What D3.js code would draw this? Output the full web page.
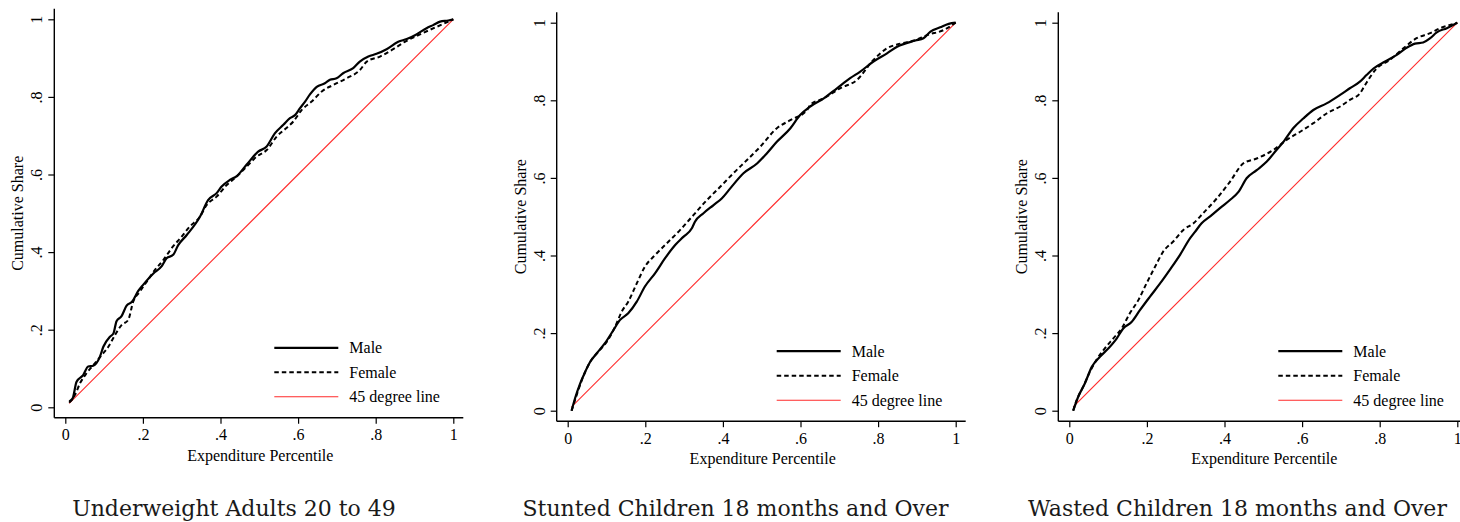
<!DOCTYPE html>
<html>
<head>
<meta charset="utf-8">
<script src="https://cdn.jsdelivr.net/npm/d3@7"></script>
<style>
  html, body { margin: 0; padding: 0; background: #fff; }
  svg { display: block; }
</style>
</head>
<body>
<svg id="chart" width="1460" height="522"></svg>
<script>
// Concentration curves: cumulative share of each group vs. expenditure percentile
const panelTitles = [
  "Underweight Adults 20 to 49",
  "Stunted Children 18 months and Over",
  "Wasted Children 18 months and Over"
];
const xTicks = [0, 0.2, 0.4, 0.6, 0.8, 1];
const yTicks = [0, 0.2, 0.4, 0.6, 0.8, 1];
const tickLabels = ["0", ".2", ".4", ".6", ".8", "1"];
const legendLabels = ["Male", "Female", "45 degree line"];
const xTitle = "Expenditure Percentile";
const yTitle = "Cumulative Share";

// Underweight adults
const adultsMaleX = [0.01,0.019,0.029,0.046,0.059,0.072,0.089,0.098,0.115,0.124,0.132,0.145,0.158,0.172,0.188,0.2,0.227,0.248,0.261,0.278,0.291,0.313,0.347,0.368,0.39,0.403,0.424,0.442,0.467,0.497,0.519,0.54,0.562,0.579,0.592,0.605,0.618,0.631,0.648,0.669,0.682,0.699,0.716,0.742,0.759,0.781,0.802,0.828,0.858,0.88,0.905,0.931,0.948,0.966,0.987,1];
const adultsMaleY = [0.015,0.023,0.066,0.083,0.105,0.107,0.13,0.156,0.182,0.19,0.222,0.235,0.262,0.272,0.3,0.315,0.345,0.363,0.384,0.393,0.418,0.444,0.491,0.534,0.552,0.569,0.586,0.596,0.625,0.659,0.672,0.706,0.728,0.745,0.753,0.771,0.788,0.807,0.826,0.835,0.844,0.848,0.861,0.874,0.891,0.904,0.911,0.923,0.942,0.949,0.961,0.977,0.985,0.994,0.997,1];
const adultsFemaleX = [0.01,0.025,0.038,0.055,0.076,0.094,0.111,0.128,0.145,0.162,0.175,0.192,0.21,0.231,0.253,0.274,0.3,0.321,0.347,0.364,0.39,0.416,0.442,0.467,0.493,0.519,0.545,0.57,0.588,0.609,0.635,0.661,0.691,0.725,0.759,0.777,0.811,0.845,0.875,0.905,0.94,0.974,1];
const adultsFemaleY = [0.012,0.032,0.062,0.088,0.113,0.135,0.156,0.186,0.212,0.225,0.272,0.298,0.324,0.354,0.38,0.41,0.44,0.466,0.491,0.521,0.543,0.573,0.595,0.62,0.646,0.663,0.698,0.72,0.737,0.766,0.788,0.814,0.831,0.848,0.869,0.891,0.904,0.923,0.942,0.957,0.973,0.988,1];

// Stunted children
const stuntedMaleX = [0.01,0.019,0.032,0.045,0.058,0.075,0.096,0.118,0.135,0.156,0.178,0.199,0.225,0.251,0.277,0.298,0.32,0.328,0.35,0.376,0.397,0.419,0.453,0.488,0.513,0.539,0.574,0.599,0.625,0.66,0.694,0.728,0.754,0.788,0.823,0.849,0.896,0.917,0.935,0.96,0.982,1];
const stuntedMaleY = [0.0,0.032,0.07,0.1,0.126,0.148,0.174,0.208,0.234,0.251,0.281,0.32,0.354,0.393,0.427,0.448,0.47,0.487,0.509,0.53,0.547,0.573,0.612,0.637,0.663,0.693,0.728,0.762,0.784,0.805,0.831,0.857,0.874,0.9,0.921,0.938,0.954,0.96,0.977,0.988,0.997,1];
const stuntedFemaleX = [0.01,0.023,0.04,0.058,0.079,0.101,0.122,0.139,0.156,0.178,0.199,0.225,0.255,0.29,0.324,0.359,0.393,0.427,0.462,0.496,0.539,0.574,0.617,0.625,0.66,0.702,0.745,0.788,0.823,0.857,0.896,0.926,0.969,1];
const stuntedFemaleY = [0.0,0.04,0.088,0.126,0.152,0.178,0.216,0.255,0.281,0.328,0.371,0.401,0.431,0.466,0.504,0.543,0.577,0.612,0.646,0.68,0.728,0.749,0.775,0.788,0.805,0.831,0.852,0.904,0.934,0.946,0.955,0.968,0.981,1];

// Wasted children
const wastedMaleX = [0.01,0.023,0.04,0.058,0.079,0.101,0.122,0.139,0.161,0.182,0.208,0.234,0.259,0.285,0.311,0.324,0.341,0.367,0.393,0.414,0.436,0.457,0.483,0.509,0.534,0.552,0.577,0.603,0.629,0.663,0.698,0.723,0.749,0.766,0.784,0.814,0.844,0.869,0.891,0.912,0.93,0.947,0.973,1];
const wastedMaleY = [0.0,0.036,0.07,0.113,0.139,0.161,0.186,0.212,0.229,0.259,0.294,0.328,0.363,0.401,0.444,0.461,0.483,0.504,0.526,0.543,0.564,0.599,0.62,0.642,0.672,0.693,0.728,0.753,0.775,0.792,0.814,0.831,0.848,0.865,0.882,0.9,0.917,0.935,0.946,0.949,0.96,0.975,0.986,1];
const wastedFemaleX = [0.01,0.019,0.036,0.053,0.07,0.092,0.113,0.135,0.156,0.178,0.199,0.221,0.242,0.268,0.294,0.32,0.345,0.38,0.414,0.448,0.483,0.526,0.56,0.595,0.629,0.663,0.698,0.723,0.749,0.762,0.792,0.826,0.861,0.895,0.93,0.956,0.981,1];
const wastedFemaleY = [0.0,0.027,0.062,0.1,0.131,0.161,0.186,0.212,0.251,0.285,0.328,0.371,0.41,0.436,0.466,0.483,0.509,0.547,0.59,0.637,0.65,0.672,0.698,0.719,0.741,0.766,0.784,0.801,0.818,0.839,0.882,0.904,0.934,0.96,0.973,0.986,0.994,1];

const diagX = [0.01, 1];
const diagY = [0.01, 1];

const panels = [
  { title: panelTitles[0], male: [adultsMaleX, adultsMaleY], female: [adultsFemaleX, adultsFemaleY], left: 54.3, base: 407.3, titleX: 234 },
  { title: panelTitles[1], male: [stuntedMaleX, stuntedMaleY], female: [stuntedFemaleX, stuntedFemaleY], left: 556.7, base: 410.7, titleX: 735.5 },
  { title: panelTitles[2], male: [wastedMaleX, wastedMaleY], female: [wastedFemaleX, wastedFemaleY], left: 1058.3, base: 410.7, titleX: 1237.5 }
];

const svg = d3.select("#chart");
const font = "'Liberation Serif', 'Times New Roman', serif";
const captionFont = "'DejaVu Serif', serif";
const zip = (xs, ys) => xs.map((x, i) => [x, ys[i]]);

panels.forEach(p => {
  const span = 388;
  const x = d3.scaleLinear().domain([0, 1]).range([p.left + 11, p.left + 11 + span]);
  const y = d3.scaleLinear().domain([0, 1]).range([p.base, p.base - span]);
  const g = svg.append("g");

  // axis frame lines
  const xAxisY = p.base + 10.5;
  g.append("line").attr("x1", p.left).attr("x2", p.left)
    .attr("y1", p.base - 398.5).attr("y2", xAxisY)
    .attr("stroke", "#000").attr("stroke-width", 1.4);
  g.append("line").attr("x1", p.left).attr("x2", p.left + 409)
    .attr("y1", xAxisY).attr("y2", xAxisY)
    .attr("stroke", "#000").attr("stroke-width", 1.4);

  // x axis
  const xAxis = d3.axisBottom(x).tickValues(xTicks).tickSize(6).tickPadding(5)
    .tickFormat((d, i) => tickLabels[i]);
  const gx = g.append("g").attr("transform", `translate(0,${xAxisY})`).call(xAxis);
  gx.select(".domain").remove();
  gx.selectAll("line").attr("stroke", "#000").attr("stroke-width", 1.2);
  gx.selectAll("text").attr("font-family", font).attr("font-size", 16).attr("fill", "#000");

  // y axis with rotated labels
  const yAxis = d3.axisLeft(y).tickValues(yTicks).tickSize(6).tickFormat((d, i) => tickLabels[i]);
  const gy = g.append("g").attr("transform", `translate(${p.left},0)`).call(yAxis);
  gy.select(".domain").remove();
  gy.selectAll("line").attr("stroke", "#000").attr("stroke-width", 1.2);
  gy.selectAll("text")
    .attr("font-family", font).attr("font-size", 16).attr("fill", "#000")
    .attr("x", null).attr("dy", null)
    .attr("text-anchor", "middle")
    .attr("transform", "translate(-12,0) rotate(-90)");

  // axis titles
  g.append("text").attr("x", (x(0) + x(1)) / 2 + 1).attr("y", xAxisY + 43)
    .attr("text-anchor", "middle").attr("font-family", font).attr("font-size", 16)
    .text(xTitle);
  g.append("text")
    .attr("transform", `translate(${p.left - 31},${y(0.5)}) rotate(-90)`)
    .attr("text-anchor", "middle").attr("font-family", font).attr("font-size", 16)
    .text(yTitle);

  const line = d3.line().x(d => x(d[0])).y(d => y(d[1])).curve(d3.curveMonotoneX);

  // 45 degree reference line
  g.append("path").datum(zip(diagX, diagY)).attr("d", line)
    .attr("fill", "none").attr("stroke", "#ff2a2a").attr("stroke-width", 1.1);
  // female (dashed) then male (solid)
  g.append("path").datum(zip(p.female[0], p.female[1])).attr("d", line)
    .attr("fill", "none").attr("stroke", "#000").attr("stroke-width", 2)
    .attr("stroke-dasharray", "4.5,3");
  g.append("path").datum(zip(p.male[0], p.male[1])).attr("d", line)
    .attr("fill", "none").attr("stroke", "#000").attr("stroke-width", 2.2);

  // legend
  const lx0 = p.left + 220, lx1 = p.left + 284, tx = p.left + 295;
  const ly = legendLabels.map((_, i) => p.base - 59.5 + i * 24.5);
  const styles = [
    { stroke: "#000", w: 2.2, dash: null },
    { stroke: "#000", w: 2, dash: "4.5,3" },
    { stroke: "#ff2a2a", w: 1.1, dash: null }
  ];
  legendLabels.forEach((lab, i) => {
    g.append("line").attr("x1", lx0).attr("x2", lx1).attr("y1", ly[i]).attr("y2", ly[i])
      .attr("stroke", styles[i].stroke).attr("stroke-width", styles[i].w)
      .attr("stroke-dasharray", styles[i].dash);
    g.append("text").attr("x", tx).attr("y", ly[i] + 5.5)
      .attr("font-family", font).attr("font-size", 16).text(lab);
  });

  // panel caption
  svg.append("text").attr("x", p.titleX).attr("y", 516)
    .attr("text-anchor", "middle").attr("font-family", captionFont).attr("font-size", 22)
    .attr("fill", "#1a1a1a").text(p.title);
});
</script>
</body>
</html>
